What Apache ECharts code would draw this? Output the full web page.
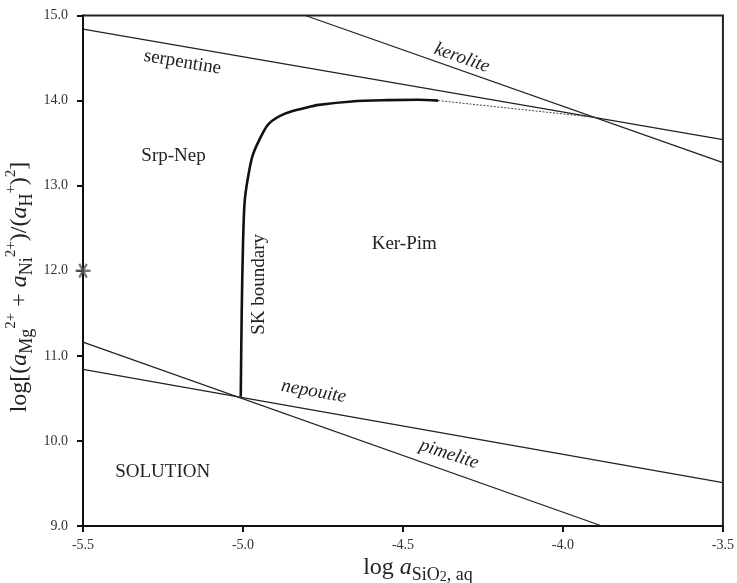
<!DOCTYPE html>
<html>
<head>
<meta charset="utf-8">
<script src="https://cdn.jsdelivr.net/npm/echarts@6/dist/echarts.min.js"></script>
<style>
html,body{margin:0;padding:0;background:#fff;}
#c{width:737px;height:583px;}
</style>
</head>
<body>
<div id="c"></div>
<script>
// ---- data (log aSiO2 , log[(aMg+aNi)/aH^2]) ----
const xTicks = [-5.5, -5.0, -4.5, -4.0, -3.5];
const yTicks = [9.0, 10.0, 11.0, 12.0, 13.0, 14.0, 15.0];

const serpentineX = [-5.5, -3.5];
const serpentineY = [14.84, 13.54];

const keroliteX = [-4.805, -3.5];
const keroliteY = [15.0, 13.27];

const nepouiteX = [-5.5, -3.5];
const nepouiteY = [10.84, 9.51];

const pimeliteX = [-5.5, -3.878];
const pimeliteY = [11.16, 9.0];

const skX = [-5.007, -5.004, -5.000, -4.995, -4.986, -4.971, -4.950, -4.919, -4.867, -4.800, -4.763, -4.660, -4.550, -4.453, -4.390];
const skY = [10.52, 11.50, 12.30, 12.80, 13.06, 13.34, 13.53, 13.73, 13.85, 13.92, 13.95, 13.99, 14.005, 14.01, 14.00];

const skDotX = [-4.390, -3.893];
const skDotY = [14.00, 13.80];

const starX = [-5.5];
const starY = [12.0];

// labels
const labelText = ['serpentine', 'kerolite', 'nepouite', 'pimelite', 'Srp-Nep', 'Ker-Pim', 'SOLUTION', 'SK boundary'];
const labelX = [-5.189, -4.316, -4.779, -4.356, -5.217, -4.496, -5.251, -4.950];
const labelY = [14.45, 14.50, 10.58, 9.843, 13.35, 12.32, 9.63, 11.84];
const labelRot = [-9.7, -19.3, -10, -18, 0, 0, 0, 90];
const labelItalic = [false, true, true, true, false, false, false, false];

const zip = (a, b) => a.map((v, i) => [v, b[i]]);

const chart = echarts.init(document.getElementById('c'), null, {renderer: 'canvas'});
const SERIF = '"Liberation Serif", "DejaVu Serif", serif';
const lineCol = '#222';

const starPath = 'path://M-1,-0.15L1,-0.15L1,0.15L-1,0.15Z' +
  'M-0.37,-0.941L0.63,0.791L0.37,0.941L-0.63,-0.791Z' +
  'M0.63,-0.791L-0.37,0.941L-0.63,0.791L0.37,-0.941Z';

chart.setOption({
  animation: false,
  backgroundColor: '#fff',
  grid: {left: 83, right: 10, top: 15.5, bottom: 57, show: true, borderColor: '#222', borderWidth: 2, backgroundColor: 'transparent'},
  xAxis: {
    type: 'value', min: xTicks[0], max: xTicks[xTicks.length - 1], interval: 0.5,
    axisLine: {show: true, onZero: false, lineStyle: {color: '#111', width: 2}},
    axisTick: {show: true, inside: false, length: 6, lineStyle: {color: '#111', width: 2}},
    axisLabel: {show: true, margin: 12, fontFamily: SERIF, fontSize: 14, color: '#333', formatter: v => v.toFixed(1)},
    splitLine: {show: false}
  },
  yAxis: {
    type: 'value', min: yTicks[0], max: yTicks[yTicks.length - 1], interval: 1,
    axisLine: {show: true, onZero: false, lineStyle: {color: '#111', width: 2}},
    axisTick: {show: true, inside: false, length: 6, lineStyle: {color: '#111', width: 2}},
    axisLabel: {show: true, margin: 15, fontFamily: SERIF, fontSize: 14, color: '#333', formatter: v => v.toFixed(1)},
    splitLine: {show: false}
  },
  series: [
    {type: 'line', data: zip(serpentineX, serpentineY), symbol: 'none', lineStyle: {color: lineCol, width: 1.3}},
    {type: 'line', data: zip(keroliteX, keroliteY), symbol: 'none', lineStyle: {color: lineCol, width: 1.3}},
    {type: 'line', data: zip(nepouiteX, nepouiteY), symbol: 'none', lineStyle: {color: lineCol, width: 1.3}},
    {type: 'line', data: zip(pimeliteX, pimeliteY), symbol: 'none', lineStyle: {color: lineCol, width: 1.3}},
    {type: 'line', data: zip(skX, skY), symbol: 'none', smooth: 0.3, lineStyle: {color: '#111', width: 2.6}},
    {type: 'line', data: zip(skDotX, skDotY), symbol: 'none', lineStyle: {color: '#444', width: 1, type: [2, 1.5]}},
    {type: 'scatter', data: zip(starX, starY), symbol: starPath, symbolSize: 15, clip: false, itemStyle: {color: '#555'}, z: 5}
  ]
});

const gfx = [];
labelText.forEach((t, i) => {
  const p = chart.convertToPixel({gridIndex: 0}, [labelX[i], labelY[i]]);
  gfx.push({
    type: 'text', x: p[0], y: p[1], rotation: labelRot[i] * Math.PI / 180, z: 10,
    style: {text: t, fontFamily: SERIF, fontSize: 19, fontStyle: labelItalic[i] ? 'italic' : 'normal', fill: '#222', align: 'center', verticalAlign: 'middle'}
  });
});

const richStyles = {
  n: {fontFamily: SERIF, fontSize: 24, lineHeight: 32, fill: '#222'},
  i: {fontFamily: SERIF, fontSize: 24, fontStyle: 'italic', lineHeight: 32, fill: '#222'},
  s: {fontFamily: SERIF, fontSize: 18, lineHeight: 19, verticalAlign: 'bottom', fill: '#222'},
  s2: {fontFamily: SERIF, fontSize: 14, lineHeight: 13, verticalAlign: 'bottom', fill: '#222'},
  p: {fontFamily: SERIF, fontSize: 15, lineHeight: 17, verticalAlign: 'top', fill: '#222'}
};

gfx.push({
  type: 'text', x: 418, y: 568, z: 10,
  style: {text: '{n|log }{i|a}{s|SiO}{s2|2}{s|, aq}', rich: richStyles, align: 'center', verticalAlign: 'middle'}
});
gfx.push({
  type: 'text', x: 20, y: 287, rotation: Math.PI / 2, z: 10,
  style: {text: '{n|log[(}{i|a}{s|Mg}{p|2+}{n| + }{i|a}{s|Ni}{p|2+}{n|)/(}{i|a}{s|H}{p|+}{n|)}{p|2}{n|]}', rich: richStyles, align: 'center', verticalAlign: 'middle'}
});

chart.setOption({graphic: gfx});
</script>
</body>
</html>
